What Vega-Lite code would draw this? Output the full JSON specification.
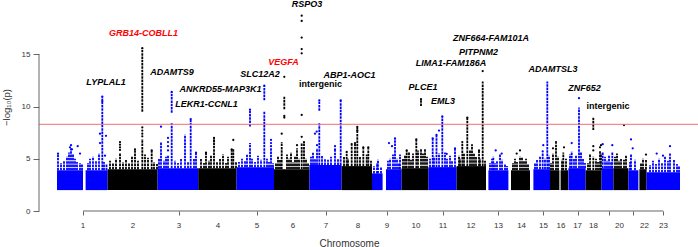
{
"$schema": "https://vega.github.io/schema/vega-lite/v6.json",
"width": 659, "height": 211,
"autosize": {"type": "none"},
"padding": {"left": 39, "top": 0, "right": 0, "bottom": 36},
"background": "white",
"config": {"font": "Liberation Sans", "view": {"stroke": null}},
"datasets": {
"chroms": [
{"chr":"1","mid":130},{"chr":"2","mid":380},{"chr":"3","mid":610},{"chr":"4","mid":805},{"chr":"5","mid":1000},{"chr":"6","mid":1180},{"chr":"7","mid":1345},{"chr":"8","mid":1505},{"chr":"9","mid":1650},{"chr":"10","mid":1795},{"chr":"11","mid":1930},{"chr":"12","mid":2070},{"chr":"13","mid":2207},{"chr":"14","mid":2323},{"chr":"15","mid":2432},{"chr":"16","mid":2520},{"chr":"17","mid":2603},{"chr":"18","mid":2682},{"chr":"20","mid":2812},{"chr":"22","mid":2937},{"chr":"23","mid":3032}
],
"blocks": [
{"chr":1,"start":0,"end":130,"low":2,"top":3.9},
{"chr":1,"start":143,"end":253,"low":2,"top":3.9},
{"chr":2,"start":253,"end":503,"low":2,"top":4.0},
{"chr":3,"start":503,"end":706,"low":2,"top":4.1},
{"chr":4,"start":706,"end":898,"low":2,"top":4.1},
{"chr":5,"start":898,"end":1085,"low":2,"top":4.2},
{"chr":6,"start":1085,"end":1262,"low":2,"top":4.0},
{"chr":7,"start":1262,"end":1423,"low":2,"top":4.4},
{"chr":8,"start":1423,"end":1575,"low":2,"top":4.3},
{"chr":9,"start":1575,"end":1628,"low":2,"top":3.6},
{"chr":9,"start":1645,"end":1723,"low":2,"top":4.0},
{"chr":10,"start":1723,"end":1857,"low":2,"top":4.1},
{"chr":11,"start":1857,"end":1998,"low":2,"top":4.2},
{"chr":12,"start":1998,"end":2145,"low":2,"top":4.3},
{"chr":13,"start":2157,"end":2257,"low":2,"top":3.9},
{"chr":14,"start":2270,"end":2365,"low":2,"top":3.9},
{"chr":15,"start":2382,"end":2465,"low":2,"top":4.0},
{"chr":16,"start":2465,"end":2512,"low":2,"top":3.9},
{"chr":16,"start":2518,"end":2556,"low":2,"top":3.9},
{"chr":17,"start":2557,"end":2643,"low":2,"top":4.1},
{"chr":18,"start":2643,"end":2723,"low":2,"top":3.9},
{"chr":19,"start":2723,"end":2782,"low":2,"top":4.1},
{"chr":20,"start":2782,"end":2857,"low":2,"top":4.1},
{"chr":21,"start":2857,"end":2907,"low":2,"top":3.9},
{"chr":22,"start":2912,"end":2948,"low":2,"top":4.0},
{"chr":23,"start":2948,"end":3115,"low":2,"top":3.7}
],
"spikes": [
{"chr":1,"pos":5,"lo":3.9,"hi":5.4},{"chr":1,"pos":20,"lo":3.9,"hi":4.6},{"chr":1,"pos":35,"lo":3.9,"hi":4.8},{"chr":1,"pos":50,"lo":3.9,"hi":5.2},{"chr":1,"pos":60,"lo":3.9,"hi":5.6},{"chr":1,"pos":70,"lo":3.9,"hi":6.0},{"chr":1,"pos":80,"lo":3.9,"hi":5.4},{"chr":1,"pos":90,"lo":3.9,"hi":5.0},{"chr":1,"pos":100,"lo":3.9,"hi":4.7},{"chr":1,"pos":115,"lo":3.9,"hi":4.6},{"chr":1,"pos":125,"lo":3.9,"hi":4.5},
{"chr":1,"pos":155,"lo":3.9,"hi":4.6},{"chr":1,"pos":165,"lo":3.9,"hi":5.0},{"chr":1,"pos":180,"lo":3.9,"hi":5.2},{"chr":1,"pos":195,"lo":3.9,"hi":4.8},{"chr":1,"pos":210,"lo":3.9,"hi":5.5},{"chr":1,"pos":226.5,"lo":3.9,"hi":10.95},{"chr":1,"pos":235,"lo":3.9,"hi":4.7},{"chr":1,"pos":247.5,"lo":3.9,"hi":4.5},
{"chr":2,"pos":265,"lo":4.0,"hi":4.8},{"chr":2,"pos":280,"lo":4.0,"hi":4.6},{"chr":2,"pos":295,"lo":4.0,"hi":5.0},{"chr":2,"pos":315,"lo":4.0,"hi":5.5},{"chr":2,"pos":330,"lo":4.0,"hi":4.7},{"chr":2,"pos":345,"lo":4.0,"hi":4.9},{"chr":2,"pos":360,"lo":4.0,"hi":4.6},{"chr":2,"pos":375,"lo":4.0,"hi":5.2},{"chr":2,"pos":390,"lo":4.0,"hi":5.9},{"chr":2,"pos":405,"lo":4.0,"hi":4.8},{"chr":2,"pos":426.5,"lo":4.0,"hi":6.9},{"chr":2,"pos":426.5,"lo":9.5,"hi":15.6},{"chr":2,"pos":440,"lo":4.0,"hi":5.4},{"chr":2,"pos":455,"lo":4.0,"hi":5.1},{"chr":2,"pos":473.5,"lo":4.0,"hi":5.8},{"chr":2,"pos":485,"lo":4.0,"hi":4.7},{"chr":2,"pos":500,"lo":4.0,"hi":4.5},
{"chr":3,"pos":510,"lo":4.1,"hi":5.0},{"chr":3,"pos":520,"lo":4.1,"hi":6.6},{"chr":3,"pos":535,"lo":4.1,"hi":4.8},{"chr":3,"pos":545,"lo":4.1,"hi":5.2},{"chr":3,"pos":555,"lo":4.1,"hi":5.3},{"chr":3,"pos":573.5,"lo":4.1,"hi":8.4},{"chr":3,"pos":573.5,"lo":9.4,"hi":11.4},{"chr":3,"pos":590,"lo":4.1,"hi":4.8},{"chr":3,"pos":605,"lo":4.1,"hi":4.6},{"chr":3,"pos":620,"lo":4.1,"hi":5.0},{"chr":3,"pos":640,"lo":4.1,"hi":7.3},{"chr":3,"pos":655,"lo":4.1,"hi":4.7},{"chr":3,"pos":668.5,"lo":4.1,"hi":8.8},{"chr":3,"pos":685,"lo":4.1,"hi":5.0},{"chr":3,"pos":695,"lo":4.1,"hi":5.6},
{"chr":4,"pos":720,"lo":4.1,"hi":5.0},{"chr":4,"pos":735,"lo":4.1,"hi":4.6},{"chr":4,"pos":745,"lo":4.1,"hi":5.6},{"chr":4,"pos":760,"lo":4.1,"hi":4.8},{"chr":4,"pos":770,"lo":4.1,"hi":5.3},{"chr":4,"pos":785,"lo":4.1,"hi":7.0},{"chr":4,"pos":800,"lo":4.1,"hi":4.7},{"chr":4,"pos":815,"lo":4.1,"hi":5.0},{"chr":4,"pos":830,"lo":4.1,"hi":5.4},{"chr":4,"pos":845,"lo":4.1,"hi":4.6},{"chr":4,"pos":855,"lo":4.1,"hi":5.2},{"chr":4,"pos":873.5,"lo":4.1,"hi":5.9},{"chr":4,"pos":881.5,"lo":4.1,"hi":6.0},{"chr":4,"pos":895,"lo":4.1,"hi":4.7},
{"chr":5,"pos":910,"lo":4.2,"hi":4.7},{"chr":5,"pos":925,"lo":4.2,"hi":5.0},{"chr":5,"pos":940,"lo":4.2,"hi":4.8},{"chr":5,"pos":950,"lo":4.2,"hi":5.4},{"chr":5,"pos":965,"lo":4.2,"hi":6.5},{"chr":5,"pos":965,"lo":8.1,"hi":9.7},{"chr":5,"pos":975,"lo":4.2,"hi":5.0},{"chr":5,"pos":990,"lo":4.2,"hi":4.7},{"chr":5,"pos":1005,"lo":4.2,"hi":5.3},{"chr":5,"pos":1020,"lo":4.2,"hi":4.9},{"chr":5,"pos":1036.5,"lo":4.2,"hi":9.5},{"chr":5,"pos":1036.5,"lo":10.6,"hi":12.0},{"chr":5,"pos":1050,"lo":4.2,"hi":5.0},{"chr":5,"pos":1060,"lo":4.2,"hi":4.7},{"chr":5,"pos":1070,"lo":4.2,"hi":6.0},{"chr":5,"pos":1080,"lo":4.2,"hi":4.6},
{"chr":6,"pos":1095,"lo":4.0,"hi":4.6},{"chr":6,"pos":1105,"lo":4.0,"hi":5.2},{"chr":6,"pos":1115,"lo":4.0,"hi":4.9},{"chr":6,"pos":1123.5,"lo":4.0,"hi":6.6},{"chr":6,"pos":1136.5,"lo":9.75,"hi":10.95},{"chr":6,"pos":1150,"lo":4.0,"hi":5.4},{"chr":6,"pos":1160,"lo":4.0,"hi":5.0},{"chr":6,"pos":1170,"lo":4.0,"hi":5.6},{"chr":6,"pos":1180,"lo":4.0,"hi":4.7},{"chr":6,"pos":1190,"lo":4.0,"hi":5.2},{"chr":6,"pos":1200,"lo":4.0,"hi":6.0},{"chr":6,"pos":1210,"lo":4.0,"hi":5.0},{"chr":6,"pos":1223.5,"lo":4.0,"hi":6.5},{"chr":6,"pos":1235,"lo":4.0,"hi":6.6},{"chr":6,"pos":1245,"lo":4.0,"hi":5.0},{"chr":6,"pos":1255,"lo":4.0,"hi":4.6},
{"chr":7,"pos":1270,"lo":4.4,"hi":5.2},{"chr":7,"pos":1280,"lo":4.4,"hi":5.6},{"chr":7,"pos":1290,"lo":4.4,"hi":5.0},{"chr":7,"pos":1300,"lo":4.4,"hi":6.0},{"chr":7,"pos":1311.5,"lo":4.4,"hi":8.4},{"chr":7,"pos":1311.5,"lo":9.6,"hi":10.6},{"chr":7,"pos":1325,"lo":4.4,"hi":5.3},{"chr":7,"pos":1340,"lo":4.4,"hi":5.0},{"chr":7,"pos":1355,"lo":4.4,"hi":4.9},{"chr":7,"pos":1370,"lo":4.4,"hi":5.2},{"chr":7,"pos":1390,"lo":4.4,"hi":5.9},{"chr":7,"pos":1405,"lo":4.4,"hi":5.0},{"chr":7,"pos":1418.5,"lo":4.4,"hi":10.6},
{"chr":8,"pos":1435,"lo":4.3,"hi":5.2},{"chr":8,"pos":1448.5,"lo":4.3,"hi":5.6},{"chr":8,"pos":1455,"lo":4.3,"hi":5.0},{"chr":8,"pos":1473.5,"lo":4.3,"hi":6.3},{"chr":8,"pos":1490,"lo":4.3,"hi":6.5},{"chr":8,"pos":1501.5,"lo":4.3,"hi":8.06},{"chr":8,"pos":1515,"lo":4.3,"hi":5.2},{"chr":8,"pos":1531.5,"lo":4.3,"hi":6.1},{"chr":8,"pos":1548.5,"lo":4.3,"hi":5.4},{"chr":8,"pos":1556.5,"lo":4.3,"hi":6.1},{"chr":8,"pos":1570,"lo":4.3,"hi":4.8},
{"chr":9,"pos":1585,"lo":3.6,"hi":4.3},{"chr":9,"pos":1600,"lo":3.6,"hi":4.6},{"chr":9,"pos":1605,"lo":3.6,"hi":4.9},{"chr":9,"pos":1620,"lo":3.6,"hi":4.2},{"chr":9,"pos":1655,"lo":4.0,"hi":4.8},{"chr":9,"pos":1665,"lo":4.0,"hi":5.0},{"chr":9,"pos":1680,"lo":4.0,"hi":5.4},{"chr":9,"pos":1690,"lo":4.0,"hi":6.95},{"chr":9,"pos":1700,"lo":4.0,"hi":5.0},{"chr":9,"pos":1710,"lo":4.0,"hi":4.6},{"chr":9,"pos":1715,"lo":4.0,"hi":5.4},
{"chr":10,"pos":1730,"lo":4.1,"hi":5.0},{"chr":10,"pos":1740,"lo":4.1,"hi":5.3},{"chr":10,"pos":1748.5,"lo":4.1,"hi":5.8},{"chr":10,"pos":1760,"lo":4.1,"hi":5.6},{"chr":10,"pos":1770,"lo":4.1,"hi":4.9},{"chr":10,"pos":1780,"lo":4.1,"hi":5.5},{"chr":10,"pos":1796.5,"lo":4.1,"hi":6.86},{"chr":10,"pos":1805,"lo":4.1,"hi":5.8},{"chr":10,"pos":1820,"lo":4.1,"hi":5.9},{"chr":10,"pos":1820,"lo":10.05,"hi":10.7},{"chr":10,"pos":1830,"lo":4.1,"hi":5.5},{"chr":10,"pos":1840,"lo":4.1,"hi":6.0},{"chr":10,"pos":1850,"lo":4.1,"hi":5.2},
{"chr":11,"pos":1865,"lo":4.2,"hi":5.0},{"chr":11,"pos":1878.5,"lo":4.2,"hi":6.96},{"chr":11,"pos":1885,"lo":4.2,"hi":5.2},{"chr":11,"pos":1897.5,"lo":4.2,"hi":7.3},{"chr":11,"pos":1910,"lo":4.2,"hi":5.5},{"chr":11,"pos":1926.5,"lo":4.2,"hi":9.05},{"chr":11,"pos":1940,"lo":4.2,"hi":5.6},{"chr":11,"pos":1950,"lo":4.2,"hi":5.0},{"chr":11,"pos":1965,"lo":4.2,"hi":5.3},{"chr":11,"pos":1975,"lo":4.2,"hi":4.8},{"chr":11,"pos":1990,"lo":4.2,"hi":6.0},
{"chr":12,"pos":2010,"lo":4.3,"hi":5.3},{"chr":12,"pos":2015,"lo":4.3,"hi":5.0},{"chr":12,"pos":2026.5,"lo":4.3,"hi":6.5},{"chr":12,"pos":2035,"lo":4.3,"hi":5.5},{"chr":12,"pos":2051.5,"lo":4.3,"hi":8.95},{"chr":12,"pos":2065,"lo":4.3,"hi":5.8},{"chr":12,"pos":2075,"lo":4.3,"hi":6.4},{"chr":12,"pos":2085,"lo":4.3,"hi":5.5},{"chr":12,"pos":2095,"lo":4.3,"hi":5.2},{"chr":12,"pos":2110,"lo":4.3,"hi":5.8},{"chr":12,"pos":2115,"lo":4.3,"hi":5.0},{"chr":12,"pos":2128.5,"lo":4.3,"hi":12.4},{"chr":12,"pos":2140,"lo":4.3,"hi":4.8},
{"chr":13,"pos":2165,"lo":3.9,"hi":4.6},{"chr":13,"pos":2175,"lo":3.9,"hi":5.0},{"chr":13,"pos":2181.5,"lo":3.9,"hi":5.2},{"chr":13,"pos":2190,"lo":3.9,"hi":4.6},{"chr":13,"pos":2200,"lo":3.9,"hi":4.8},{"chr":13,"pos":2215,"lo":3.9,"hi":5.4},{"chr":13,"pos":2225,"lo":3.9,"hi":4.9},{"chr":13,"pos":2240,"lo":3.9,"hi":4.5},{"chr":13,"pos":2250,"lo":3.9,"hi":4.3},
{"chr":14,"pos":2280,"lo":3.9,"hi":4.6},{"chr":14,"pos":2290,"lo":3.9,"hi":5.0},{"chr":14,"pos":2300,"lo":3.9,"hi":4.7},{"chr":14,"pos":2315,"lo":3.9,"hi":5.2},{"chr":14,"pos":2325,"lo":3.9,"hi":5.1},{"chr":14,"pos":2335,"lo":3.9,"hi":4.8},{"chr":14,"pos":2345,"lo":3.9,"hi":5.0},{"chr":14,"pos":2355,"lo":3.9,"hi":4.5},
{"chr":15,"pos":2390,"lo":4.0,"hi":4.6},{"chr":15,"pos":2400,"lo":4.0,"hi":4.9},{"chr":15,"pos":2415,"lo":4.0,"hi":5.2},{"chr":15,"pos":2428.5,"lo":4.0,"hi":5.5},{"chr":15,"pos":2440,"lo":4.0,"hi":5.0},{"chr":15,"pos":2451.5,"lo":4.0,"hi":12.4},{"chr":15,"pos":2460,"lo":4.0,"hi":5.3},
{"chr":16,"pos":2470,"lo":3.9,"hi":4.6},{"chr":16,"pos":2480,"lo":3.9,"hi":5.5},{"chr":16,"pos":2495,"lo":3.9,"hi":6.5},{"chr":16,"pos":2505,"lo":3.9,"hi":5.2},{"chr":16,"pos":2525,"lo":3.9,"hi":4.9},{"chr":16,"pos":2531.5,"lo":3.9,"hi":5.6},{"chr":16,"pos":2545,"lo":3.9,"hi":5.0},
{"chr":17,"pos":2565,"lo":4.1,"hi":5.4},{"chr":17,"pos":2573.5,"lo":4.1,"hi":5.7},{"chr":17,"pos":2585,"lo":4.1,"hi":5.0},{"chr":17,"pos":2595,"lo":4.1,"hi":5.3},{"chr":17,"pos":2610,"lo":4.1,"hi":9.9},{"chr":17,"pos":2620,"lo":4.1,"hi":5.6},{"chr":17,"pos":2630,"lo":4.1,"hi":5.0},{"chr":17,"pos":2640,"lo":4.1,"hi":4.6},
{"chr":18,"pos":2655,"lo":3.9,"hi":4.6},{"chr":18,"pos":2665,"lo":3.9,"hi":5.4},{"chr":18,"pos":2681.5,"lo":3.9,"hi":5.2},{"chr":18,"pos":2681.5,"lo":7.75,"hi":8.93},{"chr":18,"pos":2695,"lo":3.9,"hi":5.0},{"chr":18,"pos":2705,"lo":3.9,"hi":4.7},{"chr":18,"pos":2715,"lo":3.9,"hi":5.8},{"chr":18,"pos":2720,"lo":3.9,"hi":5.5},
{"chr":19,"pos":2728.5,"lo":4.1,"hi":5.6},{"chr":19,"pos":2740,"lo":4.1,"hi":5.2},{"chr":19,"pos":2750,"lo":4.1,"hi":4.8},{"chr":19,"pos":2760,"lo":4.1,"hi":5.3},{"chr":19,"pos":2770,"lo":4.1,"hi":4.7},{"chr":19,"pos":2776.5,"lo":4.1,"hi":5.6},
{"chr":20,"pos":2790,"lo":4.1,"hi":5.2},{"chr":20,"pos":2800,"lo":4.1,"hi":5.5},{"chr":20,"pos":2810,"lo":4.1,"hi":4.8},{"chr":20,"pos":2820,"lo":4.1,"hi":5.0},{"chr":20,"pos":2835,"lo":4.1,"hi":4.9},{"chr":20,"pos":2845,"lo":4.1,"hi":5.3},
{"chr":21,"pos":2865,"lo":3.9,"hi":4.7},{"chr":21,"pos":2870,"lo":3.9,"hi":5.4},{"chr":21,"pos":2890,"lo":3.9,"hi":4.9},
{"chr":22,"pos":2920,"lo":4.0,"hi":4.6},{"chr":22,"pos":2930,"lo":4.0,"hi":5.0},{"chr":22,"pos":2945,"lo":4.0,"hi":4.9},
{"chr":23,"pos":2965,"lo":3.7,"hi":4.4},{"chr":23,"pos":2980,"lo":3.7,"hi":4.8},{"chr":23,"pos":2995,"lo":3.7,"hi":4.5},{"chr":23,"pos":3010,"lo":3.7,"hi":5.0},{"chr":23,"pos":3025,"lo":3.7,"hi":4.6},{"chr":23,"pos":3040,"lo":3.7,"hi":5.2},{"chr":23,"pos":3055,"lo":3.7,"hi":4.8},{"chr":23,"pos":3065,"lo":3.7,"hi":5.5},{"chr":23,"pos":3085,"lo":3.7,"hi":4.9},{"chr":23,"pos":3100,"lo":3.7,"hi":4.5},{"chr":23,"pos":3110,"lo":3.7,"hi":4.3}
],
"hits": [
{"chr":1,"pos":70,"logp":6.3},{"chr":1,"pos":65,"logp":6.1},{"chr":1,"pos":103.5,"logp":6.2},{"chr":1,"pos":75,"logp":5.9},{"chr":1,"pos":115,"logp":5.5},{"chr":1,"pos":5,"logp":5.5},{"chr":1,"pos":226.5,"logp":10.95},{"chr":1,"pos":226.5,"logp":10.5},{"chr":1,"pos":215,"logp":7.4},{"chr":1,"pos":215,"logp":6.5},{"chr":1,"pos":245,"logp":7.2},{"chr":1,"pos":240,"logp":5.3},
{"chr":2,"pos":315,"logp":6.6},{"chr":2,"pos":315,"logp":6.35},{"chr":2,"pos":315,"logp":6.1},{"chr":2,"pos":315,"logp":5.85},{"chr":2,"pos":390,"logp":5.9},{"chr":2,"pos":473.5,"logp":5.8},{"chr":2,"pos":426.5,"logp":15.6},{"chr":2,"pos":426.5,"logp":8.0},{"chr":2,"pos":426.5,"logp":7.7},{"chr":2,"pos":426.5,"logp":7.4},{"chr":2,"pos":426.5,"logp":7.15},
{"chr":3,"pos":520,"logp":8.07},{"chr":3,"pos":555,"logp":7.0},{"chr":3,"pos":555,"logp":6.6},{"chr":3,"pos":555,"logp":6.2},{"chr":3,"pos":555,"logp":5.8},{"chr":3,"pos":573.5,"logp":11.4},{"chr":3,"pos":668.5,"logp":8.8},{"chr":3,"pos":695,"logp":5.6},
{"chr":4,"pos":785,"logp":7.0},{"chr":4,"pos":785,"logp":6.7},{"chr":4,"pos":881.5,"logp":6.8},{"chr":4,"pos":873.5,"logp":5.9},{"chr":4,"pos":745,"logp":5.6},
{"chr":5,"pos":965,"logp":9.7},{"chr":5,"pos":1036.5,"logp":12.0},{"chr":5,"pos":1070,"logp":6.8},{"chr":5,"pos":1070,"logp":6.5},{"chr":5,"pos":1070,"logp":6.2},
{"chr":6,"pos":1136.5,"logp":12.85},{"chr":6,"pos":1136.5,"logp":9.1},{"chr":6,"pos":1136.5,"logp":8.95},{"chr":6,"pos":1123.5,"logp":7.4},{"chr":6,"pos":1223.5,"logp":18.7},{"chr":6,"pos":1223.5,"logp":18.2},{"chr":6,"pos":1223.5,"logp":16.6},{"chr":6,"pos":1223.5,"logp":15.5},{"chr":6,"pos":1223.5,"logp":15.1},{"chr":6,"pos":1223.5,"logp":9.2},{"chr":6,"pos":1223.5,"logp":7.1},{"chr":6,"pos":1235,"logp":6.6},{"chr":6,"pos":1200,"logp":6.3},
{"chr":7,"pos":1298.5,"logp":7.6},{"chr":7,"pos":1290,"logp":7.4},{"chr":7,"pos":1300,"logp":6.3},{"chr":7,"pos":1311.5,"logp":10.6},{"chr":7,"pos":1390,"logp":6.2},{"chr":7,"pos":1390,"logp":5.9},{"chr":7,"pos":1418.5,"logp":10.6},
{"chr":8,"pos":1501.5,"logp":8.06},{"chr":8,"pos":1501.5,"logp":7.7},{"chr":8,"pos":1490,"logp":6.5},{"chr":8,"pos":1473.5,"logp":6.4},{"chr":8,"pos":1448.5,"logp":5.66},{"chr":8,"pos":1531.5,"logp":6.1},{"chr":8,"pos":1556.5,"logp":6.1},
{"chr":9,"pos":1660,"logp":6.5},{"chr":9,"pos":1675,"logp":6.2},{"chr":9,"pos":1690,"logp":6.95},
{"chr":10,"pos":1796.5,"logp":6.86},{"chr":10,"pos":1820,"logp":10.7},{"chr":10,"pos":1748.5,"logp":5.8},
{"chr":11,"pos":1878.5,"logp":6.96},{"chr":11,"pos":1897.5,"logp":7.3},{"chr":11,"pos":1910,"logp":7.7},{"chr":11,"pos":1926.5,"logp":9.05},{"chr":11,"pos":1948.5,"logp":5.46},{"chr":11,"pos":1990,"logp":6.0},
{"chr":12,"pos":2026.5,"logp":6.6},{"chr":12,"pos":2051.5,"logp":8.95},{"chr":12,"pos":2128.5,"logp":13.4},{"chr":12,"pos":2110,"logp":5.8},
{"chr":13,"pos":2193.5,"logp":5.8},{"chr":13,"pos":2223.5,"logp":5.5},
{"chr":14,"pos":2315,"logp":5.8},{"chr":14,"pos":2298.5,"logp":5.5},
{"chr":15,"pos":2428.5,"logp":5.7},{"chr":15,"pos":2431.5,"logp":6.3},
{"chr":16,"pos":2480,"logp":6.0},{"chr":16,"pos":2495,"logp":6.6},{"chr":16,"pos":2535,"logp":6.1},
{"chr":17,"pos":2573.5,"logp":6.5},{"chr":17,"pos":2610,"logp":10.8},
{"chr":18,"pos":2681.5,"logp":6.2},{"chr":18,"pos":2681.5,"logp":5.8},{"chr":18,"pos":2715,"logp":6.1},{"chr":18,"pos":2720,"logp":6.3},
{"chr":19,"pos":2728.5,"logp":6.4},{"chr":19,"pos":2776.5,"logp":6.3},
{"chr":20,"pos":2835,"logp":8.23},
{"chr":21,"pos":2870,"logp":6.85},{"chr":21,"pos":2878.5,"logp":6.0},
{"chr":22,"pos":2945,"logp":5.4},
{"chr":23,"pos":3065,"logp":6.2},{"chr":23,"pos":2998.5,"logp":5.5},{"chr":23,"pos":3030,"logp":5.3}
],
"labels": [
{"text":"GRB14-COBLL1","pos":432.5,"v":17.03,"type":"gene","highlight":1},
{"text":"LYPLAL1","pos":245,"v":12.34,"type":"gene","highlight":0},
{"text":"ADAMTS9","pos":575,"v":13.3,"type":"gene","highlight":0},
{"text":"ANKRD55-MAP3K1","pos":817.5,"v":11.67,"type":"gene","highlight":0},
{"text":"LEKR1-CCNL1","pos":747.5,"v":10.24,"type":"gene","highlight":0},
{"text":"SLC12A2","pos":1015,"v":13.11,"type":"gene","highlight":0},
{"text":"VEGFA","pos":1133,"v":14.26,"type":"gene","highlight":1},
{"text":"RSPO3","pos":1250,"v":19.85,"type":"gene","highlight":0},
{"text":"ABP1-AOC1","pos":1462.5,"v":13.01,"type":"gene","highlight":0},
{"text":"intergenic","pos":1317.5,"v":12.15,"type":"other","highlight":0},
{"text":"ZNF664-FAM101A","pos":2170,"v":16.56,"type":"gene","highlight":0},
{"text":"PITPNM2","pos":2107.5,"v":15.22,"type":"gene","highlight":0},
{"text":"LIMA1-FAM186A","pos":1970,"v":14.16,"type":"gene","highlight":0},
{"text":"PLCE1","pos":1830,"v":11.87,"type":"gene","highlight":0},
{"text":"EML3","pos":1930,"v":10.53,"type":"gene","highlight":0},
{"text":"ADAMTSL3","pos":2480,"v":13.59,"type":"gene","highlight":0},
{"text":"ZNF652","pos":2637.5,"v":11.77,"type":"gene","highlight":0},
{"text":"intergenic","pos":2755,"v":10.05,"type":"other","highlight":0}
]
},
"layer": [
{"data": {"name": "blocks"}, "mark": {"type": "rect"},
 "encoding": {
  "x": {"field": "start", "type": "quantitative",
    "scale": {"domain": [-90, 3205], "nice": false, "zero": false},
    "axis": {"values": [130,380,610,805,1000,1180,1345,1505,1650,1795,1930,2070,2207,2323,2432,2520,2603,2682,2762,2812,2882,2937,3032],
      "labels": false, "domain": false, "grid": false, "ticks": true, "tickSize": 4, "tickColor": "#666",
      "title": "Chromosome", "titleFontSize": 10, "titleFontWeight": "normal", "titleColor": "#333",
      "titleX": 310, "titleY": 32, "titleBaseline": "middle"}},
  "x2": {"field": "end"},
  "y": {"field": "low", "type": "quantitative",
    "scale": {"domain": [0, 20.2], "nice": false, "zero": false},
    "axis": {"values": [0,5,10,15], "domain": false, "grid": false, "ticks": true, "tickSize": 6, "tickColor": "#666",
      "labelAngle": 0, "labelFontSize": 8, "labelColor": "#333", "labelPadding": 3,
      "title": "−log₁₀(p)", "titleFontSize": 9.5, "titleFontWeight": "normal", "titleColor": "#333",
      "titleX": -33, "titleY": 107, "titleAngle": -90, "titleBaseline": "middle", "titleAlign": "center"}},
  "y2": {"field": "top"},
  "color": {"field": "chr", "type": "ordinal",
    "scale": {"domain": [1,2,3,4,5,6,7,8,9,10,11,12,13,14,15,16,17,18,19,20,21,22,23],
      "range": ["#0000ff","#000000","#0000ff","#000000","#0000ff","#000000","#0000ff","#000000","#0000ff","#000000","#0000ff","#000000","#0000ff","#000000","#0000ff","#000000","#0000ff","#000000","#0000ff","#000000","#0000ff","#000000","#0000ff"]},
    "legend": null}
 }},
{"data": {"name": "spikes"}, "mark": {"type": "rule", "strokeWidth": 1.8, "strokeDash": [2.5, 0.8]},
 "encoding": {
  "x": {"field": "pos", "type": "quantitative"},
  "y": {"field": "lo", "type": "quantitative"},
  "y2": {"field": "hi"},
  "color": {"field": "chr", "type": "ordinal", "legend": null}
 }},
{"data": {"name": "hits"}, "mark": {"type": "point", "filled": true, "size": 5, "opacity": 1, "shape": "circle"},
 "encoding": {
  "x": {"field": "pos", "type": "quantitative"},
  "y": {"field": "logp", "type": "quantitative"},
  "color": {"field": "chr", "type": "ordinal", "legend": null}
 }},
{"data": {"values": [{}]}, "mark": {"type": "rule", "color": "#f07070", "strokeWidth": 1},
 "encoding": {"y": {"datum": 8.3, "type": "quantitative"}}},
{"data": {"values": [{}]}, "mark": {"type": "rule", "color": "#666", "strokeWidth": 1},
 "encoding": {"x": {"datum": 130, "type": "quantitative"}, "x2": {"datum": 3032}, "y": {"datum": 0, "type": "quantitative"}}},
{"data": {"values": [{}]}, "mark": {"type": "rule", "color": "#666", "strokeWidth": 1},
 "encoding": {"x": {"datum": -90, "type": "quantitative"}, "y": {"datum": 0, "type": "quantitative"}, "y2": {"datum": 15}}},
{"data": {"name": "chroms"}, "mark": {"type": "text", "fontSize": 8, "color": "#333", "baseline": "middle", "align": "center", "dy": 15},
 "encoding": {
  "x": {"field": "mid", "type": "quantitative"},
  "y": {"datum": 0, "type": "quantitative"},
  "text": {"field": "chr"}
 }},
{"data": {"name": "labels"}, "transform": [{"filter": {"field": "type", "equal": "gene"}}],
 "mark": {"type": "text", "fontSize": 9, "fontWeight": "bold", "fontStyle": "italic", "baseline": "middle", "align": "center"},
 "encoding": {
  "x": {"field": "pos", "type": "quantitative"},
  "y": {"field": "v", "type": "quantitative"},
  "text": {"field": "text"},
  "color": {"condition": {"test": "datum.highlight == 1", "value": "#ff0000"}, "value": "#000000"}
 }},
{"data": {"name": "labels"}, "transform": [{"filter": {"field": "type", "equal": "other"}}],
 "mark": {"type": "text", "fontSize": 9, "fontWeight": "bold", "baseline": "middle", "align": "center", "color": "#000000"},
 "encoding": {
  "x": {"field": "pos", "type": "quantitative"},
  "y": {"field": "v", "type": "quantitative"},
  "text": {"field": "text"}
 }}
]
}
